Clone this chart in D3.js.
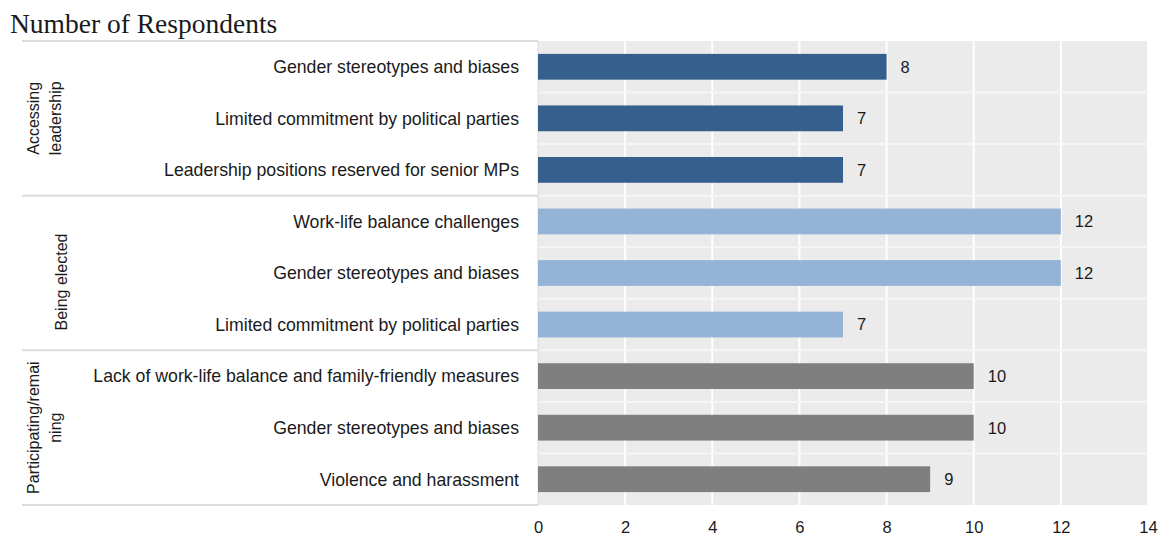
<!DOCTYPE html>
<html lang="en">
<head>
  <meta charset="UTF-8">
  <title>Number of Respondents</title>
  <script src="https://d3js.org/d3.v7.min.js"></script>
  <style>
    body { margin: 0; background: #fff; }
    svg { display: block; }
    text { font-family: "Liberation Sans", Arial, sans-serif; fill: #1a1a1a; }
  </style>
</head>
<body>
  <svg id="chart" width="1159" height="538"></svg>
  <script>
    // groups, categories and values
    const groups = [
      { name: ["Accessing", "leadership"], size: 3, color: "#355f8d" },
      { name: ["Being elected"], size: 3, color: "#95b3d7" },
      { name: ["Participating/remai", "ning"], size: 3, color: "#7f7f7f" }
    ];
    const categories = [
      "Gender stereotypes and biases",
      "Limited commitment by political parties",
      "Leadership positions reserved for senior MPs",
      "Work-life balance challenges",
      "Gender stereotypes and biases",
      "Limited commitment by political parties",
      "Lack of work-life balance and family-friendly measures",
      "Gender stereotypes and biases",
      "Violence and harassment"
    ];
    const values = [8, 7, 7, 12, 12, 7, 10, 10, 9];
    const xTicks = [0, 2, 4, 6, 8, 10, 12, 14];

    const rows = categories.map((c, i) => ({ id: i, label: c, value: values[i], group: Math.floor(i / 3) }));

    const svg = d3.select("#chart");
    const plot = { left: 538, right: 1148, top: 41, bottom: 505 };

    const x = d3.scaleLinear().domain([0, 14]).range([plot.left, plot.right]);
    const y = d3.scaleBand().domain(rows.map(d => d.id)).range([plot.top, plot.bottom]).paddingInner(0.5).paddingOuter(0.25);
    const band = d3.scaleBand().domain(rows.map(d => d.id)).range([plot.top, plot.bottom]);

    // title
    svg.append("text")
      .attr("x", 10).attr("y", 33)
      .style("font-family", "'Liberation Serif', 'Times New Roman', serif")
      .style("font-size", "27.5px")
      .text("Number of Respondents");

    // plot background
    svg.append("rect")
      .attr("x", plot.left).attr("y", plot.top)
      .attr("width", plot.right - plot.left).attr("height", plot.bottom - plot.top)
      .attr("fill", "#ebebeb");

    // vertical grid
    svg.append("g").selectAll("line").data(xTicks.slice(1)).join("line")
      .attr("x1", d => x(d)).attr("x2", d => x(d))
      .attr("y1", plot.top).attr("y2", plot.bottom)
      .attr("stroke", "#fff").attr("stroke-width", 2);

    // horizontal grid at category boundaries
    svg.append("g").selectAll("line").data(rows.slice(1)).join("line")
      .attr("x1", plot.left).attr("x2", plot.right)
      .attr("y1", d => band(d.id)).attr("y2", d => band(d.id))
      .attr("stroke", "#f6f6f6").attr("stroke-width", 2);

    // group separators in the label panel
    let start = 0;
    const bounds = [band(0)];
    groups.forEach(g => { start += g.size; bounds.push(start < rows.length ? band(start) : plot.bottom); });
    svg.append("g").selectAll("line").data(bounds).join("line")
      .attr("x1", 22).attr("x2", plot.left)
      .attr("y1", d => d).attr("y2", d => d)
      .attr("stroke", "#dcdcdc").attr("stroke-width", 2);
    svg.append("line")
      .attr("x1", plot.left).attr("x2", plot.left)
      .attr("y1", plot.top).attr("y2", plot.bottom)
      .attr("stroke", "#dcdcdc").attr("stroke-width", 1);

    // group labels (rotated)
    groups.forEach((g, gi) => {
      const lines = g.name;
      const cy = (bounds[gi] + bounds[gi + 1]) / 2 + (lines.length > 1 ? 0 : 9);
      const t = svg.append("text")
        .attr("transform", `translate(${lines.length > 1 ? 39 : 67},${cy}) rotate(-90)`)
        .attr("text-anchor", "middle")
        .style("font-size", "16px");
      lines.forEach((ln, li) => {
        t.append("tspan").attr("x", 0).attr("dy", li === 0 ? 0 : "1.4em").text(ln);
      });
    });

    // bars
    svg.append("g").selectAll("rect").data(rows).join("rect")
      .attr("x", x(0)).attr("y", d => y(d.id))
      .attr("width", d => x(d.value) - x(0)).attr("height", y.bandwidth())
      .attr("fill", d => groups[d.group].color);

    // value labels
    svg.append("g").selectAll("text").data(rows).join("text")
      .attr("x", d => x(d.value) + 14).attr("y", d => y(d.id) + y.bandwidth() / 2)
      .attr("dy", "0.36em")
      .style("font-size", "16.5px")
      .text(d => d.value);

    // category labels
    svg.append("g").selectAll("text").data(rows).join("text")
      .attr("x", 519).attr("y", d => y(d.id) + y.bandwidth() / 2)
      .attr("dy", "0.36em")
      .attr("text-anchor", "end")
      .style("font-size", "17.7px")
      .text(d => d.label);

    // x axis
    const ax = svg.append("g")
      .attr("transform", `translate(0,${plot.bottom})`)
      .call(d3.axisBottom(x).tickValues(xTicks).tickSize(0).tickPadding(16));
    ax.select(".domain").remove();
    ax.selectAll("text").style("font-size", "16.5px").attr("fill", "#1a1a1a");
  </script>
</body>
</html>
